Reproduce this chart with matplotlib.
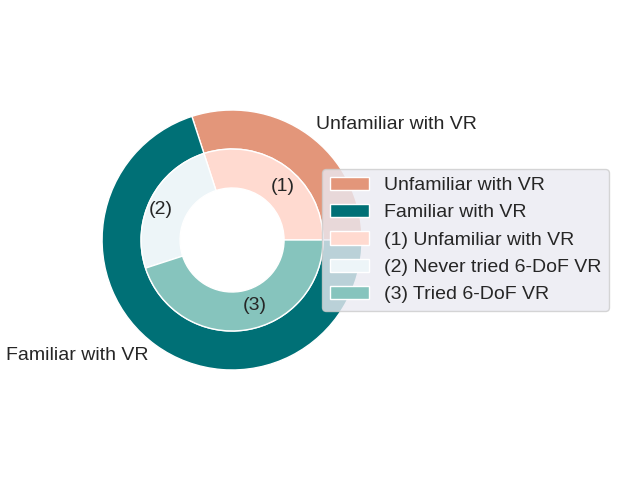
import matplotlib
matplotlib.use('Agg')
import matplotlib.pyplot as plt
import seaborn as sns

# ---------------------------- data ---------------------------- #
outer_labels = ['Unfamiliar with VR', 'Familiar with VR']
outer_values = [6, 14]
outer_colors = ['#E3967A', '#007076']

inner_labels = ['(1)', '(2)', '(3)']
inner_values = [6, 5, 9]
inner_colors = ['#FFDAD0', '#EDF5F8', '#86C4BD']
inner_legend = ['(1) Unfamiliar with VR', '(2) Never tried 6-DoF VR', '(3) Tried 6-DoF VR']

sns.set_theme(style='darkgrid', font_scale=1.2)
plt.rcParams['font.family'] = ['Liberation Sans', 'DejaVu Sans']

fig = plt.figure(figsize=(6.4, 4.8), dpi=100)
ax = fig.add_axes([0.1086, 0.1615, 0.508, 0.677])

size = 0.3
w1, t1 = ax.pie(outer_values, radius=1, labels=outer_labels, colors=outer_colors,
                labeldistance=1.1, textprops={'fontsize': 14},
                wedgeprops=dict(width=size, edgecolor='white', linewidth=1))
w2, t2 = ax.pie(inner_values, radius=1 - size, labels=inner_labels, colors=inner_colors,
                labeldistance=0.73, textprops={'fontsize': 14},
                wedgeprops=dict(width=size, edgecolor='white', linewidth=1))
ax.set_aspect('equal')

fig.legend(w1 + w2, outer_labels + inner_legend, loc='center left',
           bbox_to_anchor=(0.503, 0.5), borderaxespad=0, fontsize=14)

plt.savefig('out.png', dpi=100)
